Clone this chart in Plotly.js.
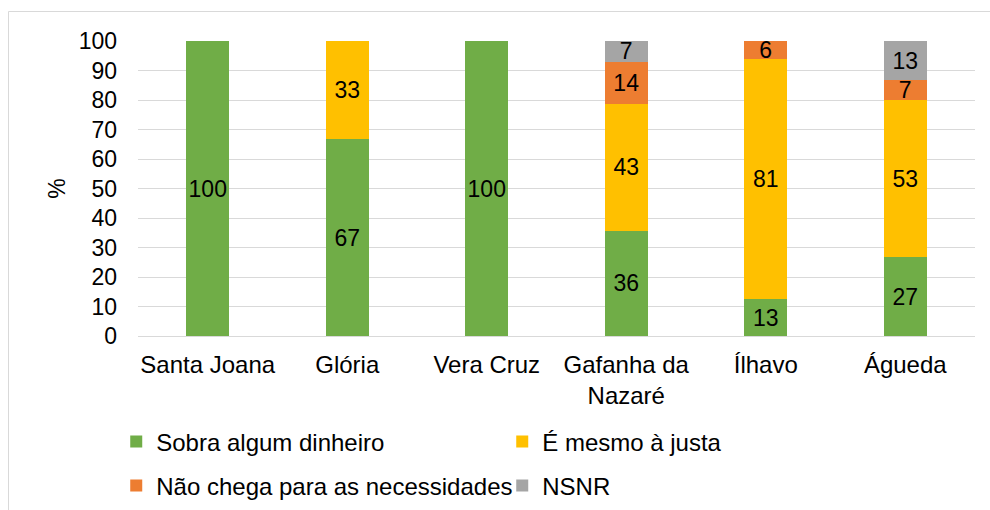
<!DOCTYPE html>
<html>
<head>
<meta charset="utf-8">
<script src="https://cdn.plot.ly/plotly-3.0.1.min.js"></script>
<style>
html,body{margin:0;padding:0;background:#fff;overflow:hidden;}
#chart{width:990px;height:510px;}
</style>
</head>
<body>
<div id="chart"></div>
<script>
var categories = ["Santa Joana", "Glória", "Vera Cruz", "Gafanha da<br>Nazaré", "Ílhavo", "Águeda"];
var sobra = [100, 66.7, 100, 35.7, 12.5, 26.7];
var justa = [0, 33.3, 0, 42.9, 81.25, 53.3];
var naoChega = [0, 0, 0, 14.3, 6.25, 6.7];
var nsnr = [0, 0, 0, 7.1, 0, 13.3];
var seriesNames = ["Sobra algum dinheiro", "É mesmo à justa", "Não chega para as necessidades", "NSNR"];
var seriesColors = ["#70AD47", "#FFC000", "#ED7D31", "#A5A5A5"];
var yTicks = [0, 10, 20, 30, 40, 50, 60, 70, 80, 90, 100];

var FONT = "Liberation Sans, Arial, sans-serif";
var allSeries = [sobra, justa, naoChega, nsnr];
var legendIds = ["legend", "legend", "legend2", "legend2"];

var traces = allSeries.map(function (vals, i) {
  return {
    type: "bar",
    name: seriesNames[i],
    x: categories,
    y: vals,
    marker: {color: seriesColors[i], line: {width: 0}},
    text: vals.map(function (v) { return v > 0 ? String(Math.round(v + 1e-9)) : ""; }),
    textposition: "inside",
    insidetextanchor: "middle",
    textangle: 0,
    constraintext: "none",
    insidetextfont: {family: FONT, size: 23, color: "#000"},
    hoverinfo: "name+y",
    legend: legendIds[i]
  };
});

var layout = {
  width: 990,
  height: 510,
  barmode: "stack",
  bargap: 0.69,
  paper_bgcolor: "#fff",
  plot_bgcolor: "#fff",
  margin: {l: 138, r: 15, t: 41, b: 174, autoexpand: false},
  font: {family: FONT, size: 23, color: "#000"},
  xaxis: {
    type: "category",
    showgrid: false,
    zeroline: false,
    showline: false,
    ticks: "",
    automargin: false,
    ticklabelstandoff: 12,
    tickfont: {family: FONT, size: 24, color: "#000"}
  },
  yaxis: {
    range: [0, 100],
    tickvals: yTicks,
    ticktext: yTicks.map(String),
    showgrid: true,
    gridcolor: "#D9D9D9",
    gridwidth: 1,
    zeroline: true,
    zerolinecolor: "#D9D9D9",
    zerolinewidth: 1,
    showline: false,
    ticks: "",
    automargin: false,
    ticklabelstandoff: 20,
    tickfont: {family: FONT, size: 23, color: "#000"},
    title: {text: "%", font: {family: FONT, size: 23, color: "#000"}, standoff: 6},
    fixedrange: true
  },
  legend: {
    orientation: "h",
    x: -0.026, xanchor: "left",
    y: -0.359, yanchor: "middle",
    entrywidth: 341,
    font: {family: FONT, size: 24, color: "#000"},
    traceorder: "normal",
    bgcolor: "rgba(0,0,0,0)"
  },
  legend2: {
    orientation: "h",
    x: -0.026, xanchor: "left",
    y: -0.508, yanchor: "middle",
    entrywidth: 341,
    font: {family: FONT, size: 24, color: "#000"},
    traceorder: "normal",
    bgcolor: "rgba(0,0,0,0)"
  },
  shapes: [{
    type: "rect", xref: "paper", yref: "paper",
    x0: (8.5 - 138) / 837, x1: 1.2,
    y0: -1.0, y1: (336 - 11.5) / 295,
    line: {color: "#D9D9D9", width: 1},
    fillcolor: "rgba(0,0,0,0)",
    layer: "below"
  }],
  showlegend: true
};

Plotly.newPlot("chart", traces, layout, {displayModeBar: false, staticPlot: true});
</script>
</body>
</html>
